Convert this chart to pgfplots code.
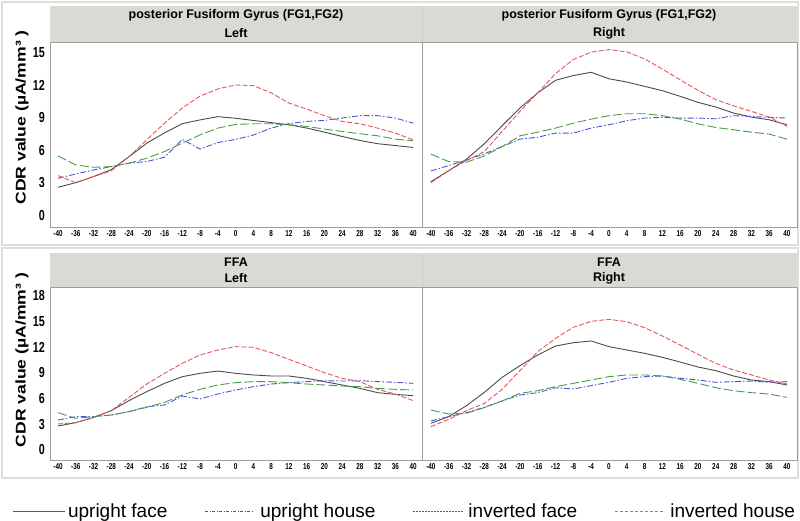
\documentclass[border=0pt]{standalone}
\usepackage{fontspec}
\setmainfont{Liberation Sans}
\newfontfamily\condfont[FakeStretch=0.74]{Liberation Sans}
\usepackage{graphicx}
\usepackage{pgfplots}
\usepackage{pgfplotstable}
\pgfplotsset{compat=1.18}

\definecolor{cUF}{RGB}{75,75,75}
\definecolor{cUH}{RGB}{75,85,215}
\definecolor{cIF}{RGB}{228,88,88}
\definecolor{cIH}{RGB}{75,155,75}
\definecolor{lUF}{RGB}{90,90,90}
\definecolor{lUH}{RGB}{40,80,250}
\definecolor{lIF}{RGB}{235,30,30}
\definecolor{lIH}{RGB}{60,190,60}
\definecolor{hdr}{RGB}{216,218,212}
\definecolor{frm}{RGB}{222,222,222}

% legend keys set as coloured rules in the legend text
\newcommand{\keyUF}{{\color{lUF}\rule[5.5pt]{52pt}{1.1pt}}\hspace{3pt}}
\newcommand{\keyUH}{{\color{lUH}\leaders\hbox{\rule[5.5pt]{3pt}{0.7pt}\hspace{1.5pt}\rule[5.5pt]{1pt}{0.7pt}\hspace{1.5pt}}\hskip 52pt}\hspace{3pt}}
\newcommand{\keyIF}{{\color{lIF}\leaders\hbox{\rule[5.5pt]{2pt}{0.7pt}\hspace{1pt}}\hskip 52pt}\hspace{3pt}}
\newcommand{\keyIH}{{\color{lIH}\leaders\hbox{\rule[5.5pt]{3pt}{0.9pt}\hspace{2pt}}\hskip 52pt}\hspace{3pt}}

% columns: x, upright face, upright house, inverted face, inverted house
\pgfplotstableread{
x uf uh if ih
-40 2.57 3.40 3.65 5.47
-36 3.00 3.80 3.00 4.64
-32 3.56 4.17 3.56 4.42
-28 4.20 4.48 4.10 4.48
-24 5.40 4.80 5.40 4.80
-20 6.65 4.95 6.96 5.26
-16 7.60 5.35 8.50 5.88
-12 8.45 7.00 9.90 6.65
-8 8.80 6.10 11.00 7.42
-4 9.10 6.70 11.66 8.04
0 8.95 7.00 12.03 8.38
4 8.75 7.40 11.97 8.44
8 8.55 8.04 11.30 8.44
12 8.35 8.45 10.36 8.35
16 8.05 8.66 9.80 8.20
20 7.67 8.75 9.19 7.95
24 7.27 8.97 8.66 7.73
28 6.90 9.19 8.44 7.52
32 6.60 9.19 8.04 7.33
36 6.43 8.97 7.58 7.02
40 6.25 8.50 6.96 6.87
}\tabTL

\pgfplotstableread{
x uf uh if ih
-40 3.09 4.08 3.00 5.63
-36 4.10 4.58 4.10 4.95
-32 5.17 5.10 5.04 4.89
-28 6.59 5.66 5.88 5.47
-24 8.26 6.34 7.73 6.34
-20 9.90 7.02 9.59 7.33
-16 11.29 7.20 11.29 7.67
-12 12.46 7.58 13.08 8.04
-8 12.90 7.58 14.38 8.50
-4 13.20 8.04 15.06 8.87
0 12.60 8.35 15.30 9.19
4 12.30 8.72 15.09 9.37
8 11.90 8.97 14.44 9.37
12 11.50 9.03 13.50 9.19
16 10.98 8.97 12.50 8.87
20 10.42 8.97 11.54 8.44
24 9.99 8.90 10.67 8.10
28 9.43 9.19 10.10 7.89
32 9.06 9.12 9.59 7.67
36 8.81 9.03 9.06 7.49
40 8.35 8.97 8.20 7.02
}\tabTR

\pgfplotstableread{
x uf uh if ih
-40 2.80 3.50 3.04 4.36
-36 3.20 3.90 3.19 3.70
-32 3.80 3.90 3.80 3.90
-28 4.60 4.09 4.60 4.09
-24 5.77 4.48 6.15 4.48
-20 6.82 5.06 7.71 4.99
-16 7.79 5.26 8.96 5.57
-12 8.57 6.31 10.13 6.43
-8 8.96 5.96 11.10 7.09
-4 9.23 6.54 11.69 7.60
0 8.96 7.01 12.08 7.87
4 8.77 7.40 12.00 7.99
8 8.65 7.71 11.38 7.99
12 8.65 7.87 10.60 7.87
16 8.38 7.99 9.82 7.71
20 7.99 8.10 9.04 7.60
24 7.60 8.06 8.38 7.48
28 7.20 8.10 7.99 7.40
32 6.70 7.99 7.09 7.20
36 6.50 7.91 6.54 7.09
40 6.35 7.79 5.77 7.01
}\tabBL

\pgfplotstableread{
x uf uh if ih
-40 3.12 3.39 2.73 4.67
-36 3.90 3.90 3.58 4.21
-32 5.18 4.36 4.60 4.29
-28 6.74 4.99 5.45 4.95
-24 8.49 5.73 7.09 5.73
-20 9.86 6.43 9.27 6.62
-16 11.10 6.70 11.49 6.93
-12 12.15 7.28 13.05 7.40
-8 12.54 7.13 14.34 7.79
-4 12.74 7.52 15.04 8.18
0 12.08 7.91 15.27 8.57
4 11.69 8.38 15.00 8.77
8 11.30 8.57 14.30 8.77
12 10.83 8.65 13.32 8.65
16 10.28 8.38 12.27 8.26
20 9.70 8.18 11.18 7.79
24 9.27 7.91 10.13 7.28
28 8.65 7.99 9.35 6.93
32 8.18 8.06 8.77 6.70
36 7.99 7.91 8.18 6.54
40 7.60 7.99 7.71 6.15
}\tabBR

\tikzset{
  sUF/.style={draw=cUF, color=cUF, line width=0.9pt},
  sUH/.style={draw=cUH, color=cUH, line width=0.9pt, dash pattern=on 6pt off 2pt on 1.5pt off 2pt},
  sIF/.style={draw=cIF, color=cIF, line width=0.9pt, dash pattern=on 5pt off 2pt},
  sIH/.style={draw=cIH, color=cIH, line width=0.9pt, dash pattern=on 9pt off 3pt},
}

\pgfplotsset{
  panel/.style={
    scale only axis,
    axis line style={draw=black!38, line width=0.8pt},
    xtick={-40,-36,...,40},
    major tick length=0pt,
    tick style={draw=none},
    /pgf/number format/assume math mode=true,
    xticklabel style={font=\condfont\bfseries\fontsize{8.6}{9}\selectfont, inner sep=0pt, yshift=-3.5pt},
    yticklabel style={font=\condfont\bfseries\fontsize{14.5}{15}\selectfont, inner sep=0pt, xshift=-5pt},
    ylabel style={font=\bfseries\fontsize{17.6}{20}\selectfont},
  },
  toppanel/.style={panel, height=185pt, ymin=-1.1, ymax=16.0, ytick={0,3,...,15}},
  botpanel/.style={panel, height=173pt, ymin=-1.17, ymax=19.05, ytick={0,3,...,18}},
  leftpanel/.style={width=372pt, xmin=-41.8, xmax=42.0},
  rightpanel/.style={width=375pt, xmin=-42.0, xmax=42.25, yticklabels={}},
}

\newcommand{\fourlines}[1]{%
  \addplot[sUF] table[x=x,y=uf] {#1};
  \addplot[sUH] table[x=x,y=uh] {#1};
  \addplot[sIF] table[x=x,y=if] {#1};
  \addplot[sIH] table[x=x,y=ih] {#1};
}

\begin{document}
\begin{tikzpicture}[x=1pt,y=1pt]
\useasboundingbox (0,0) rectangle (800,520);
% outer frames
\draw[frm, line width=1.5pt] (2,275) rectangle (798,518);
\draw[frm, line width=1.5pt] (2,42) rectangle (798,272);
% headers
\fill[hdr] (50,478) rectangle (797,514);
\draw[white!85!black, line width=0.5pt] (50,496) -- (797,496);
\draw[white!80!black, line width=0.5pt] (422,478) -- (422,514);
\node[font=\bfseries\fontsize{12.5}{14}\selectfont] at (236,505) {posterior Fusiform Gyrus (FG1,FG2)};
\node[font=\bfseries\fontsize{12.5}{14}\selectfont] at (236,487) {Left};
\node[font=\bfseries\fontsize{12.5}{14}\selectfont] at (609,505) {posterior Fusiform Gyrus (FG1,FG2)};
\node[font=\bfseries\fontsize{12.5}{14}\selectfont] at (609,487) {Right};
\fill[hdr] (50,233) rectangle (797,267);
\draw[white!85!black, line width=0.5pt] (50,250) -- (797,250);
\draw[white!80!black, line width=0.5pt] (422,233) -- (422,267);
\node[font=\bfseries\fontsize{12.5}{14}\selectfont] at (236,258) {FFA};
\node[font=\bfseries\fontsize{12.5}{14}\selectfont] at (236,242) {Left};
\node[font=\bfseries\fontsize{12.5}{14}\selectfont] at (609,258) {FFA};
\node[font=\bfseries\fontsize{12.5}{14}\selectfont] at (609,242) {Right};

\begin{axis}[toppanel, leftpanel, at={(50pt,293pt)}, anchor=south west,
  ylabel={\scalebox{1}[0.8]{CDR value (µA/mm³ )}},
  ylabel style={at={(axis description cs:-0.0753,0.592)}, anchor=center}]
\fourlines{\tabTL}
\end{axis}

\begin{axis}[toppanel, rightpanel, at={(422pt,293pt)}, anchor=south west]
\fourlines{\tabTR}
\end{axis}

\begin{axis}[botpanel, leftpanel, at={(50pt,60pt)}, anchor=south west,
  ylabel={\scalebox{1}[0.8]{CDR value (µA/mm³ )}},
  ylabel style={at={(axis description cs:-0.0753,0.578)}, anchor=center},
  legend columns=4,
  legend image code/.code={},
  legend style={at={(axis description cs:-0.1025,-0.295)}, anchor=west, draw=none, fill=none,
    font=\fontsize{19}{22}\selectfont, inner sep=0pt,
    nodes={inner sep=1pt},
    /tikz/every even column/.append style={column sep=36pt}}]
\addplot[sUF] table[x=x,y=uf] {\tabBL};
\addlegendentry{\keyUF upright face}
\addplot[sUH] table[x=x,y=uh] {\tabBL};
\addlegendentry{\keyUH upright house}
\addplot[sIF] table[x=x,y=if] {\tabBL};
\addlegendentry{\keyIF inverted face}
\addplot[sIH] table[x=x,y=ih] {\tabBL};
\addlegendentry{\keyIH inverted house}
\end{axis}

\begin{axis}[botpanel, rightpanel, at={(422pt,60pt)}, anchor=south west]
\fourlines{\tabBR}
\end{axis}
\end{tikzpicture}
\end{document}
